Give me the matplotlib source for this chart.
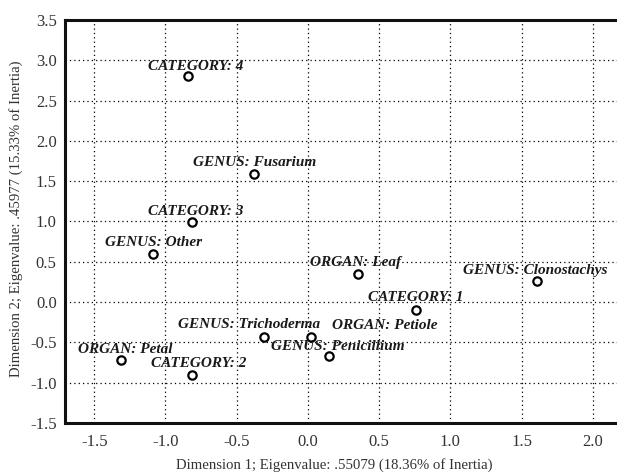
import matplotlib.pyplot as plt

plt.rcParams['font.family'] = ['Liberation Serif', 'DejaVu Serif']

# Точки (координати з графіка)
labels = ['CATEGORY: 4', 'GENUS: Fusarium', 'CATEGORY: 3', 'GENUS: Other',
          'ORGAN: Leaf', 'GENUS: Clonostachys', 'CATEGORY: 1',
          'GENUS: Trichoderma', 'ORGAN: Petiole', 'GENUS: Penicillium',
          'ORGAN: Petal', 'CATEGORY: 2']
dim1 = [-0.84, -0.38, -0.81, -1.09, 0.35, 1.61, 0.76, -0.31, 0.02, 0.15, -1.31, -0.81]
dim2 = [2.80, 1.59, 0.99, 0.60, 0.35, 0.26, -0.10, -0.43, -0.43, -0.67, -0.72, -0.91]

# зміщення підписів (пікселі)
offsets = [(7, 10), (1, 11), (3, 11), (1, 11), (-2, 11), (-2, 11), (0, 13),
           (-15, 12), (74, 11), (9, 10), (4, 11), (6, 12)]

fig = plt.figure(figsize=(6.17, 4.74), dpi=100)
ax = fig.add_axes([65 / 617, 1 - 423 / 474, 1 - 65 / 617, (423 - 20) / 474])

ax.plot(dim1, dim2, 'o', mfc='white', mec='black', mew=1.6, ms=6, zorder=3)

for lab, x, y, (dx, dy) in zip(labels, dim1, dim2, offsets):
    ax.annotate(lab, (x, y), xytext=(dx * 0.72, dy * 0.72), textcoords='offset points',
                ha='center', va='center', fontsize=11, fontweight='bold',
                fontstyle='italic', color='#1a1a1a', zorder=4)

ax.set_xlim(-1.705, 2.17)
ax.set_ylim(-1.5, 3.5)
ax.set_xticks([-1.5, -1.0, -0.5, 0.0, 0.5, 1.0, 1.5, 2.0])
ax.set_yticks([-1.5, -1.0, -0.5, 0.0, 0.5, 1.0, 1.5, 2.0, 2.5, 3.0, 3.5])
ax.xaxis.set_major_formatter(plt.FormatStrFormatter('%.1f'))
ax.yaxis.set_major_formatter(plt.FormatStrFormatter('%.1f'))
ax.tick_params(length=0, labelsize=12, colors='#333333')
ax.tick_params(axis='x', pad=8)
ax.tick_params(axis='y', pad=6)

ax.grid(True, color='black', linestyle=(0, (1, 2.5)), linewidth=0.9)
for s in ['left', 'top', 'bottom']:
    ax.spines[s].set_linewidth(2.2)
    ax.spines[s].set_color('#111111')
ax.spines['right'].set_visible(False)

ax.set_xlabel('Dimension 1; Eigenvalue: .55079 (18.36% of Inertia)', fontsize=10.6, color='#333333')
ax.set_ylabel('Dimension 2; Eigenvalue: .45977 (15.33% of Inertia)', fontsize=10.6, color='#333333')
ax.xaxis.set_label_coords(0.487, -0.088)
ax.yaxis.set_label_coords(-0.076, 0.506)

fig.savefig('out.png', dpi=100)
